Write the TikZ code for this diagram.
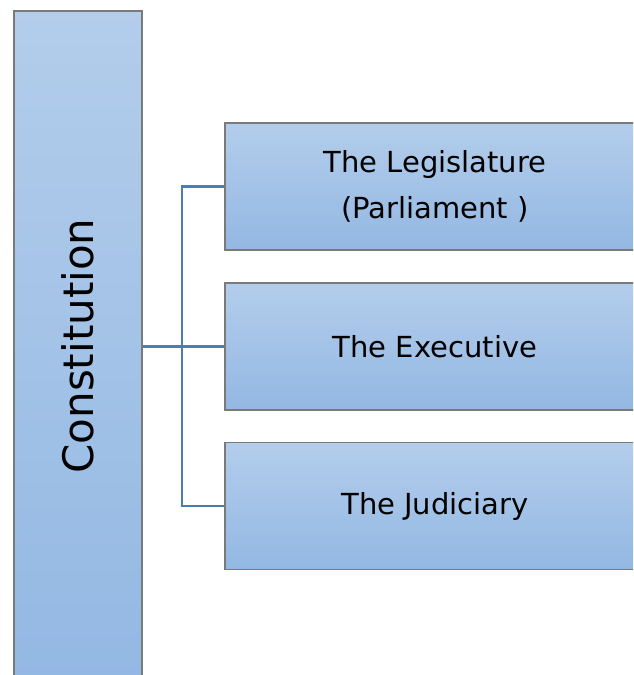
\documentclass[tikz,border=0pt]{standalone}
\usepackage{fontspec}
\setmainfont{DejaVu Sans}
\definecolor{boxtop}{HTML}{B3CDEB}
\definecolor{boxbot}{HTML}{93B8E3}
\definecolor{boxline}{HTML}{7A7A7A}
\definecolor{linkc}{HTML}{4A7EB1}
\begin{document}
\begin{tikzpicture}[x=1pt,y=-1pt,
  blk/.style={rectangle,draw=boxline,line width=1.6pt,top color=boxtop,bottom color=boxbot,inner sep=0pt,align=center},
  link/.style={draw=linkc,line width=2.4pt},
  lbl/.style={font=\fontsize{29}{46}\selectfont}]
\useasboundingbox (0,0) rectangle (633,675);
\clip (0,0) rectangle (633,675);
\node[blk,minimum width=128pt,minimum height=670pt] (const) at (78,346) {};
\node[rotate=90,font=\fontsize{42}{50}\selectfont] (ctext) at (const.center) {Constitution};
\node[blk,lbl,minimum width=420pt,minimum height=127pt] (leg) at (435,186.5) {The Legislature\\(Parliament )};
\node[blk,lbl,minimum width=420pt,minimum height=127pt] (exec) at (435,346.5) {The Executive};
\node[blk,lbl,minimum width=420pt,minimum height=127pt] (jud) at (435,506) {The Judiciary};
\draw[link] (leg.west) -- ++(-42,0) |- (jud.west);
\draw[link] (const.east |- exec.west) -- (exec.west);
\end{tikzpicture}
\end{document}
